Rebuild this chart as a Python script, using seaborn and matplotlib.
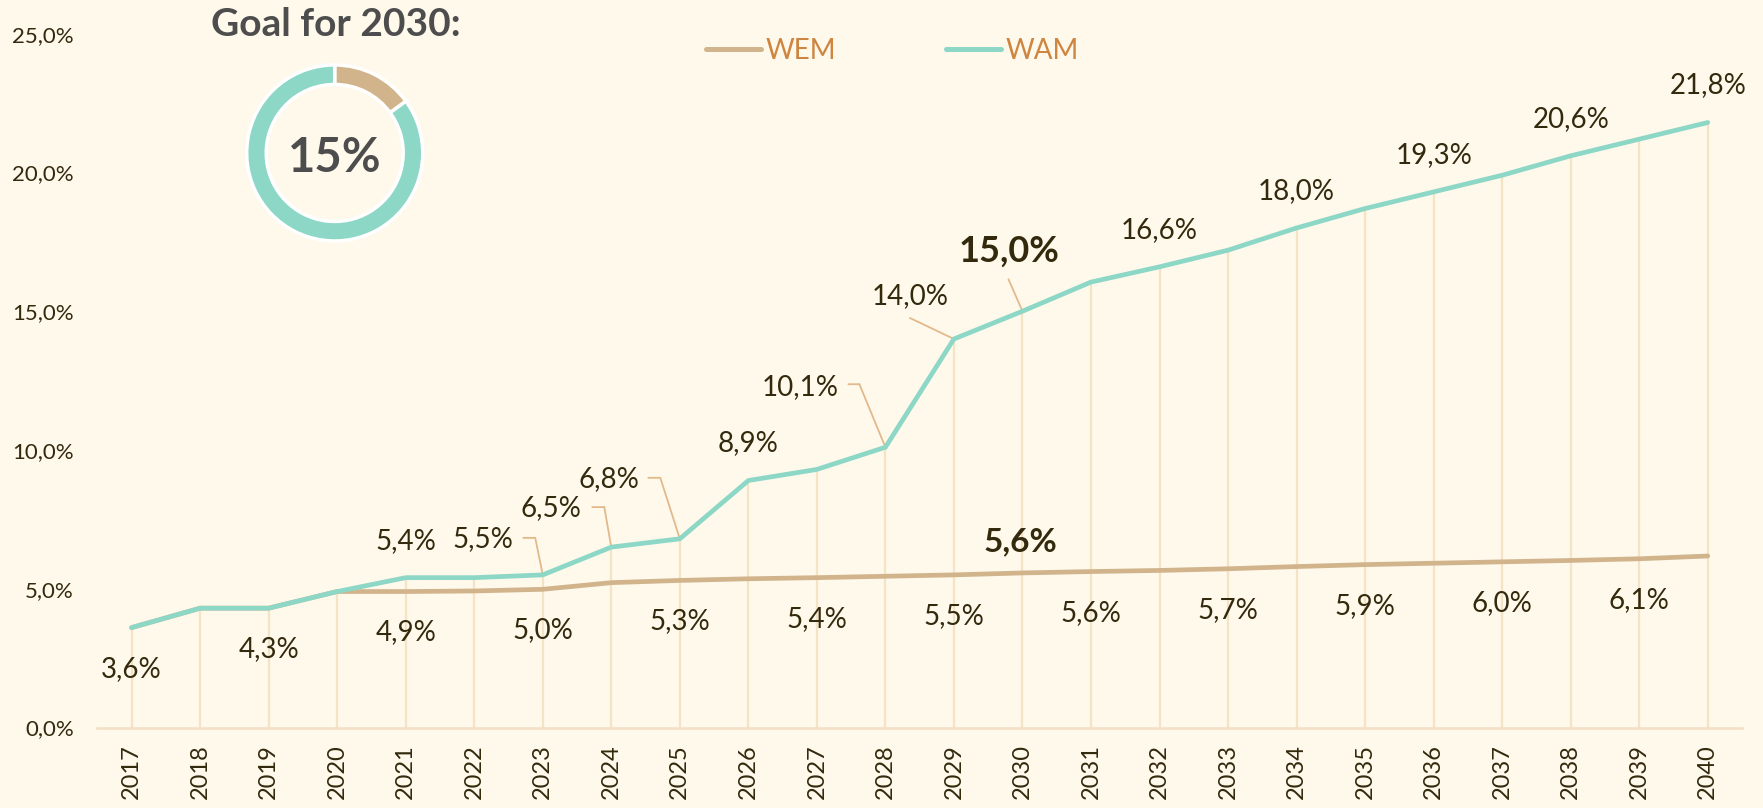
import matplotlib
matplotlib.use("Agg")
import matplotlib.pyplot as plt
from matplotlib.transforms import ScaledTranslation
import pandas as pd
import seaborn as sns

# data
years = list(range(2017, 2041))
wam = [3.6, 4.3, 4.3, 4.9, 5.4, 5.4, 5.5, 6.5, 6.8, 8.9, 9.3, 10.1,
       14.0, 15.0, 16.05, 16.6, 17.2, 18.0, 18.7, 19.3, 19.9, 20.6, 21.2, 21.8]
wem = [3.6, 4.3, 4.3, 4.9, 4.9, 4.92, 4.98, 5.22, 5.3, 5.36, 5.4, 5.45,
       5.5, 5.57, 5.62, 5.66, 5.72, 5.8, 5.87, 5.92, 5.97, 6.02, 6.08, 6.18]
goal_share = [15, 85]
goal_year = 2030
wam_plain_years = [2021, 2026, 2032, 2034, 2036, 2038, 2040]
wem_below_years = [2017, 2019, 2021, 2023, 2025, 2027, 2029, 2031, 2033, 2035, 2037, 2039]

BG = "#fff9ec"
TAN = "#d2b48c"
TEAL = "#8dd7c6"
TXT = "#33290d"
LEADER = "#e2b98a"
GRID = "#f5e3c6"
DPI = 100


def pt(v):
    return v * 72 / DPI


def fmt(v):
    return f"{v:.1f}%".replace(".", ",")


sns.set_theme(style="white")
plt.rcParams["font.family"] = ["Lato", "DejaVu Sans"]

df = pd.DataFrame({
    "year": years * 2,
    "value": wem + wam,
    "scenario": ["WEM"] * len(years) + ["WAM"] * len(years),
})

fig = plt.figure(figsize=(17.63, 8.08), dpi=DPI, facecolor=BG)
ax = fig.add_axes([0.0552, 0.0996, 0.9329, 0.8587])
ax.set_facecolor(BG)

ax.vlines(years, 0, wam, color=GRID, lw=1.6, zorder=1)
sns.lineplot(data=df, x="year", y="value", hue="scenario", hue_order=["WEM", "WAM"],
             palette={"WEM": TAN, "WAM": TEAL}, linewidth=3.4, legend=False, ax=ax,
             zorder=3, solid_capstyle="round")

ax.set_xlim(years[0] - 0.5, years[-1] + 0.5)
ax.set_ylim(0, 25)
for s in ["top", "right", "left"]:
    ax.spines[s].set_visible(False)
ax.spines["bottom"].set_color("#f3dfc3")
ax.spines["bottom"].set_linewidth(1.8)
ax.set_xlabel("")
ax.set_ylabel("")
ax.set_xticks(years)
ax.set_xticklabels([str(y) for y in years], rotation=90, fontsize=17, color=TXT)
ax.set_yticks([0, 5, 10, 15, 20, 25])
ax.set_yticklabels([fmt(v) for v in [0, 5, 10, 15, 20, 25]], fontsize=16, color=TXT)
ax.tick_params(axis="x", length=0, pad=12)
ax.tick_params(axis="y", length=0, pad=17)

# legend
leg = ax.legend(handles=ax.lines[:2], labels=["WEM", "WAM"], loc="center",
                bbox_to_anchor=(0.4835, 0.9756), ncol=2, frameon=False, fontsize=20,
                handlelength=1.98, handletextpad=0.18, columnspacing=3.95, labelcolor="peru")
for h in leg.legend_handles:
    h.set_linewidth(3.6)

# labels
wam_d = dict(zip(years, wam))
wem_d = dict(zip(years, wem))
for y in wam_plain_years:
    ax.annotate(fmt(wam_d[y]), (y, wam_d[y]), xytext=(0, pt(37)), textcoords="offset points",
                ha="center", va="center", fontsize=20, color=TXT)
for y in wem_below_years:
    ax.annotate(fmt(wem_d[y]), (y, wem_d[y]), xytext=(0, pt(-41)), textcoords="offset points",
                ha="center", va="center", fontsize=20, color=TXT)
ax.annotate(fmt(wem_d[goal_year]), (goal_year, wem_d[goal_year]), xytext=(pt(-2), pt(31)),
            textcoords="offset points", ha="center", va="center", fontsize=24,
            weight="bold", color=TXT)

# leader labels: text offset, horizontal start, elbow (px from point)
leaders = {
    2023: ((-60, 36), (-19.5, 37), (-7.5, 37)),
    2024: ((-60, 39), (-19, 40), (-7, 40)),
    2025: ((-71, 60), (-31.5, 61), (-19.5, 61)),
    2028: ((-85.5, 60), (-37, 63), (-26, 63)),
    2029: ((-44, 43), (-44, 21), (-44, 21)),
    2030: ((-13, 60), (-14, 32), (-14, 32)),
}
for y, (toff, hs, el) in leaders.items():
    v = wam_d[y]
    big = y == goal_year
    ax.annotate(fmt(v), (y, v), xytext=(pt(toff[0]), pt(toff[1])), textcoords="offset points",
                ha="center", va="center", fontsize=26 if big else 20,
                weight="bold" if big else "normal", color=TXT, zorder=5)
    ax.annotate("", (y, v), xytext=(pt(el[0]), pt(el[1])), textcoords="offset points",
                arrowprops=dict(arrowstyle="-", color=LEADER, lw=1.3, shrinkA=0, shrinkB=0),
                zorder=2)
    if hs != el:
        tr = ax.transData + ScaledTranslation(el[0] / DPI, el[1] / DPI, fig.dpi_scale_trans)
        ax.annotate("", (y, v), xycoords=tr, xytext=(pt(hs[0] - el[0]), pt(hs[1] - el[1])),
                    textcoords="offset points",
                    arrowprops=dict(arrowstyle="-", color=LEADER, lw=1.3, shrinkA=0, shrinkB=0),
                    zorder=2)

# goal donut
fig.text(336 / 1763, 1 - 24 / 808, "Goal for 2030:", ha="center", va="center",
         fontsize=28, weight="bold", color="#4d4d4d")
dax = fig.add_axes([0.1388, 0.6993, 0.1021, 0.2228])
dax.pie(goal_share, colors=[TAN, TEAL], startangle=90, counterclock=False, radius=0.978,
        wedgeprops=dict(width=0.217, edgecolor="white", linewidth=2.5))
dax.set_xlim(-1, 1)
dax.set_ylim(-1, 1)
dax.set_aspect("equal")
dax.axis("off")
dax.text(0, -0.06, f"{goal_share[0]}%", ha="center", va="center", fontsize=34,
         weight="bold", color="#4d4d4d")

fig.savefig("out.png", dpi=DPI, facecolor=BG)
